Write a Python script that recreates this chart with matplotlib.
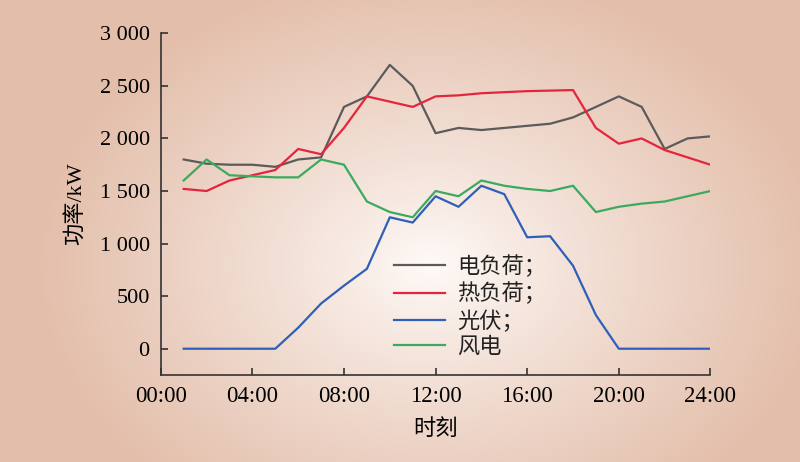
import matplotlib
matplotlib.use('Agg')
import matplotlib.pyplot as plt
import numpy as np
from matplotlib.ticker import FuncFormatter

plt.rcParams['font.family'] = ['Liberation Serif', 'Noto Sans CJK SC']

# 数据 (每小时, 1:00 ~ 24:00)
hours = list(range(1, 25))
elec_load = [1800, 1760, 1750, 1750, 1730, 1800, 1820, 2300, 2400, 2700, 2500, 2050,
             2100, 2080, 2100, 2120, 2140, 2200, 2300, 2400, 2300, 1900, 2000, 2020]
heat_load = [1520, 1500, 1600, 1650, 1700, 1900, 1850, 2100, 2400, 2350, 2300, 2400,
             2410, 2430, 2440, 2450, 2455, 2460, 2100, 1950, 2000, 1890, 1820, 1750]
pv = [0, 0, 0, 0, 0, 200, 430, 600, 760, 1250, 1200, 1450,
      1350, 1550, 1470, 1060, 1070, 790, 320, 0, 0, 0, 0, 0]
wind = [1600, 1800, 1650, 1640, 1630, 1630, 1800, 1750, 1400, 1300, 1250, 1500,
        1450, 1600, 1550, 1520, 1500, 1550, 1300, 1350, 1380, 1400, 1450, 1500]

series_labels = ['电负荷；', '热负荷；', '光伏；', '风电']
series_colors = ['#5b5b5b', '#e4253d', '#2f5fb9', '#3caa5e']
xtick_pos = [0, 4, 8, 12, 16, 20, 24]
xtick_labels = ['00:00', '04:00', '08:00', '12:00', '16:00', '20:00', '24:00']
ytick_pos = [0, 500, 1000, 1500, 2000, 2500, 3000]

fig = plt.figure(figsize=(8, 4.62), dpi=100)

# 径向渐变背景
bg = fig.add_axes([0, 0, 1, 1], zorder=-1)
bg.axis('off')
W, H = 800, 462
xx, yy = np.meshgrid(np.arange(W), np.arange(H))
d = np.sqrt(((xx - 430) / 400.0) ** 2 + ((yy - 265) / 300.0) ** 2)
d = np.clip(d, 0, 1) ** 0.85
c0 = np.array([255, 251, 249]) / 255.0
c1 = np.array([227, 190, 170]) / 255.0
img = c0[None, None, :] * (1 - d[..., None]) + c1[None, None, :] * d[..., None]
bg.imshow(img, aspect='auto', extent=[0, 1, 0, 1])
bg.set_xlim(0, 1)
bg.set_ylim(0, 1)

ax = fig.add_axes([0.201, 0.1883, 0.687, 0.7396])
ax.patch.set_alpha(0)

for vals, lab, col in zip([elec_load, heat_load, pv, wind], series_labels, series_colors):
    ax.plot(hours, vals, color=col, lw=1.6, label=lab)

ax.set_xlim(0, 24)
ax.set_ylim(-250, 3000)
ax.set_xticks(xtick_pos)
ax.set_xticklabels(xtick_labels)
ax.set_yticks(ytick_pos)
ax.yaxis.set_major_formatter(FuncFormatter(lambda v, p: f'{v:,.0f}'.replace(',', ' ')))

for s in ['top', 'right']:
    ax.spines[s].set_visible(False)
for s in ['left', 'bottom']:
    ax.spines[s].set_color('#333333')
    ax.spines[s].set_linewidth(1.2)
ax.tick_params(direction='in', length=5, width=1.2, color='#333333', labelsize=16, pad=8)
ax.tick_params(axis='x', labelsize=16.5, pad=8)

ax.set_xlabel('时刻', fontsize=16, labelpad=9)
ax.set_ylabel('功率/kW', fontsize=16, labelpad=10)

leg = ax.legend(loc='center left', bbox_to_anchor=(0.478, 0.336), bbox_transform=fig.transFigure,
                frameon=False, fontsize=16, handlelength=2.3, handletextpad=0.55,
                labelspacing=0.22, borderpad=0)
for t in leg.get_texts():
    t.set_color('#222222')

fig.savefig('out.png', dpi=100)
